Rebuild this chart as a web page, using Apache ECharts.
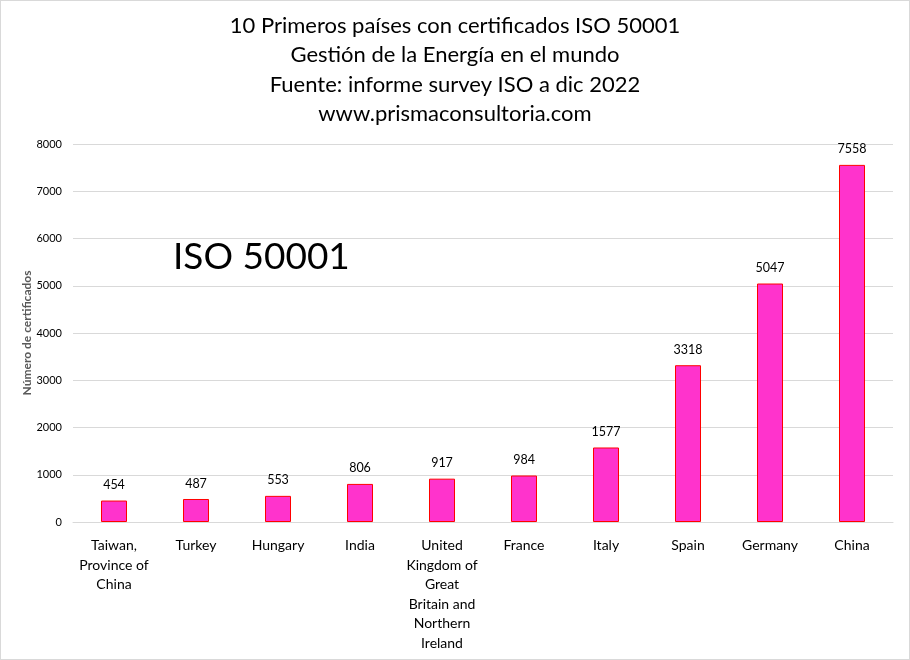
<!DOCTYPE html>
<html><head><meta charset="utf-8">
<script src="https://cdn.jsdelivr.net/npm/echarts@6/dist/echarts.min.js"></script>
<style>html,body{margin:0;padding:0;background:#fff}#c{width:908px;height:658px;border:1px solid #d9d9d9}</style>
</head><body><div id="c"></div>
<script>
const categories = ["Taiwan, Province of China","Turkey","Hungary","India","United Kingdom of Great Britain and Northern Ireland","France","Italy","Spain","Germany","China"];
const tickLabels = ["Taiwan,\nProvince of\nChina","Turkey","Hungary","India","United\nKingdom of\nGreat\nBritain and\nNorthern\nIreland","France","Italy","Spain","Germany","China"];
const values = [454,487,553,806,917,984,1577,3318,5047,7558];
const titleLines = ["10 Primeros países con certificados ISO 50001","Gestión de la Energía en el mundo","Fuente: informe survey ISO a dic 2022","www.prismaconsultoria.com"];
const font = "Lato, 'Open Sans', sans-serif";
const chart = echarts.init(document.getElementById('c'));
chart.setOption({
  backgroundColor:'#fff',
  title:{text:titleLines.join('\n'),left:'center',top:5,textStyle:{fontFamily:font,fontSize:22,fontWeight:'normal',color:'#000',lineHeight:29.5}},
  graphic:[{type:'text',left:172,top:238,style:{text:'ISO 50001',fontFamily:font,fontSize:37,fill:'#000'}}],
  grid:{left:72,right:16,top:143,bottom:137},
  xAxis:{type:'category',data:categories,
    axisLine:{lineStyle:{color:'#d9d9d9'}},axisTick:{show:false},
    axisLabel:{interval:0,margin:14,fontFamily:font,fontSize:14,color:'#000',lineHeight:19.5,
      formatter:(v,i)=>tickLabels[i]}},
  yAxis:{type:'value',min:0,max:8000,interval:1000,
    name:'Número de certificados',nameLocation:'middle',nameGap:40,nameRotate:90,nameMoveOverlap:false,
    nameTextStyle:{fontFamily:font,fontSize:12,fontWeight:'bold',color:'#595959'},
    axisLine:{show:false},axisTick:{show:false},
    splitLine:{lineStyle:{color:'#d9d9d9'}},
    axisLabel:{fontFamily:font,fontSize:11,color:'#000',margin:11,formatter:v=>String(v)}},
  series:[{type:'bar',data:values,barWidth:26,
    itemStyle:{color:'#FF33CC',borderColor:'#FF0000',borderWidth:1},
    label:{show:true,position:'top',distance:9,fontFamily:font,fontSize:12.5,color:'#000'}}]
});
</script></body></html>
